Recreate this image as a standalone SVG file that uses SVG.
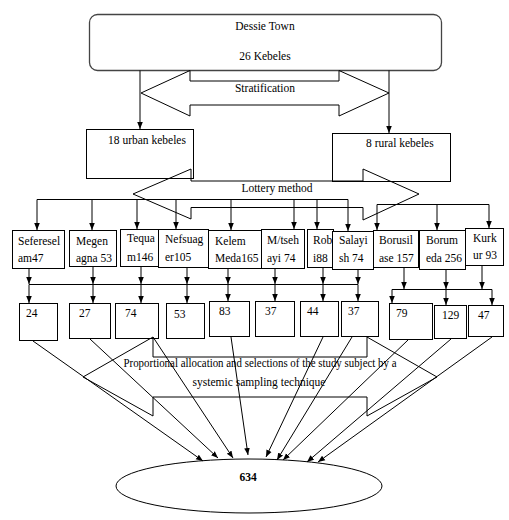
<svg xmlns="http://www.w3.org/2000/svg" width="509" height="520" viewBox="0 0 509 520">
<style>
text{font-family:"Liberation Serif","Times New Roman",serif;font-size:11.5px;fill:#000}
.c{text-anchor:middle}
.b{font-weight:bold}
.box{fill:#fff;stroke:#000;stroke-width:1}
.big{fill:none;stroke:#000;stroke-width:1}
.ln{fill:none;stroke:#000;stroke-width:1}
.ar{fill:none;stroke:#000;stroke-width:1;marker-end:url(#ah)}
</style>
<defs>
<marker id="ah" viewBox="0 0 10 10" refX="10" refY="5" markerWidth="7" markerHeight="7" markerUnits="userSpaceOnUse" orient="auto"><path d="M0,1 L10,5 L0,9 z" fill="#000"/></marker>
</defs>
<rect width="509" height="520" fill="#fff"/>

<g id="dessie">
<rect x="89.5" y="14.5" width="352" height="56" rx="8" ry="8" fill="#fff" stroke="#444" stroke-width="1.3"/>
<text class="c" x="265" y="30">Dessie Town</text>
<text class="c" x="265" y="60">26 Kebeles</text>
</g>

<g id="urban"><rect class="box" x="86.5" y="129.5" width="107" height="49"/><text x="108" y="144">18 urban kebeles</text></g>
<g id="rural"><rect class="box" x="332.5" y="133.5" width="118" height="48"/><text x="366" y="147">8 rural kebeles</text></g>

<g id="stratification">
<polygon class="big" points="141,93 190,70.5 190,81 339,81 339,70.5 389,93 339,116 339,105 190,105 190,116"/>
<text class="c" x="265" y="92">Stratification</text>
</g>

<g id="lottery">
<polygon class="big" points="133,194 191,169 191,181 363,181 363,169 419,194 363,220 363,207.5 191,207.5 191,219"/>
<text class="c" x="277" y="192">Lottery method</text>
</g>

<g id="kebeles">
<g id="k1"><rect class="box" x="12.5" y="230.5" width="52" height="38"/><text x="18" y="245">Seferesel</text><text x="18" y="262">am47</text></g>
<g id="k2"><rect class="box" x="69.5" y="230.5" width="47" height="36"/><text x="76" y="245">Megen</text><text x="76" y="262">agna 53</text></g>
<g id="k3"><rect class="box" x="120.5" y="229.5" width="38" height="37"/><text x="127" y="242">Tequa</text><text x="127" y="261">m146</text></g>
<g id="k4"><rect class="box" x="158.5" y="229.5" width="50" height="38"/><text x="165" y="243">Nefsuag</text><text x="165" y="261">er105</text></g>
<g id="k5"><rect class="box" x="208.5" y="230.5" width="53" height="38"/><text x="215" y="245">Kelem</text><text x="215" y="262">Meda165</text></g>
<g id="k6"><rect class="box" x="261.5" y="229.5" width="43" height="39"/><text x="267" y="244">M/tseh</text><text x="267" y="262">ayi 74</text></g>
<g id="k7"><rect class="box" x="307.5" y="229.5" width="26" height="38"/><text x="313" y="244">Rob</text><text x="313" y="262">i88</text></g>
<g id="k8"><rect class="box" x="332.5" y="231.5" width="41" height="38"/><text x="339" y="244">Salayi</text><text x="339" y="262">sh 74</text></g>
<g id="k9"><rect class="box" x="373.5" y="230.5" width="45" height="37"/><text x="379" y="244">Borusil</text><text x="379" y="262">ase 157</text></g>
<g id="k10"><rect class="box" x="419.5" y="230.5" width="46" height="39"/><text x="426" y="244">Borum</text><text x="426" y="262">eda 256</text></g>
<g id="k11"><rect class="box" x="465.5" y="228.5" width="38" height="37"/><text x="473" y="242">Kurk</text><text x="473" y="259">ur 93</text></g>
</g>

<g id="samples">
<g id="s1"><rect class="box" x="19.5" y="303.5" width="38" height="37"/><text x="26" y="317">24</text></g>
<g id="s2"><rect class="box" x="69.5" y="303.5" width="41" height="35"/><text x="79" y="317">27</text></g>
<g id="s3"><rect class="box" x="115.5" y="303.5" width="43" height="35"/><text x="125" y="317">74</text></g>
<g id="s4"><rect class="box" x="166.5" y="303.5" width="38" height="35"/><text x="174" y="318">53</text></g>
<g id="s5"><rect class="box" x="209.5" y="301.5" width="40" height="35"/><text x="219" y="315">83</text></g>
<g id="s6"><rect class="box" x="255.5" y="301.5" width="39" height="35"/><text x="265" y="315">37</text></g>
<g id="s7"><rect class="box" x="300.5" y="301.5" width="38" height="35"/><text x="307" y="315">44</text></g>
<g id="s8"><rect class="box" x="341.5" y="301.5" width="37" height="35"/><text x="348" y="315">37</text></g>
<g id="s9"><rect class="box" x="389.5" y="303.5" width="43" height="36"/><text x="396" y="317">79</text></g>
<g id="s10"><rect class="box" x="434.5" y="305.5" width="32" height="33"/><text x="442" y="319">129</text></g>
<g id="s11"><rect class="box" x="468.5" y="305.5" width="35" height="31"/><text x="478" y="319">47</text></g>
</g>

<g id="proportional">
<polygon class="big" points="83,377 153,337 153,357 367,357 367,337 437,377 367,416 367,397 153,397 153,416"/>
<text class="c" x="260" y="367" textLength="273" lengthAdjust="spacingAndGlyphs">Proportional allocation and selections of the study subject by a</text>
<text class="c" x="259" y="386">systemic sampling technique</text>
</g>

<g id="total">
<ellipse cx="249" cy="486" rx="133" ry="27" fill="#fff" stroke="#000" stroke-width="1"/>
<text class="c b" x="248" y="481">634</text>
</g>

<g id="connectors">
<path class="ar" d="M140,70.5 V129"/>
<path class="ar" d="M389,70.5 V133"/>
<path class="ln" d="M37,199.5 H348"/>
<path class="ar" d="M37,199.5 V230"/>
<path class="ar" d="M92,199.5 V230"/>
<path class="ar" d="M137,199.5 V229"/>
<path class="ar" d="M176,199.5 V229"/>
<path class="ar" d="M231,199.5 V230"/>
<path class="ar" d="M294,199.5 V229"/>
<path class="ar" d="M317,199.5 V229"/>
<path class="ar" d="M348,199.5 V231"/>
<path class="ln" d="M377,204.5 H489"/>
<path class="ar" d="M377,204.5 V230"/>
<path class="ar" d="M437,204.5 V230"/>
<path class="ar" d="M489,204.5 V228"/>

<path class="ar" d="M29,269 V284"/>
<path class="ar" d="M93,267 V284"/>
<path class="ar" d="M141,267 V284"/>
<path class="ar" d="M187,268 V284"/>
<path class="ar" d="M228,269 V284"/>
<path class="ar" d="M275,269 V284"/>
<path class="ar" d="M323,268 V284"/>
<path class="ar" d="M358,270 V284"/>
<path class="ln" d="M29,284.5 H358"/>
<path class="ar" d="M29,284.5 V303"/>
<path class="ar" d="M93,284.5 V303"/>
<path class="ar" d="M141,284.5 V303"/>
<path class="ar" d="M187,284.5 V303"/>
<path class="ar" d="M228,284.5 V301"/>
<path class="ar" d="M275,284.5 V301"/>
<path class="ar" d="M323,284.5 V301"/>
<path class="ar" d="M358,284.5 V301"/>

<path class="ar" d="M404,268 V289"/>
<path class="ar" d="M446,270 V289"/>
<path class="ar" d="M482,266 V289"/>
<path class="ln" d="M392,289.5 H492"/>
<path class="ar" d="M392,289.5 V303"/>
<path class="ar" d="M446,289.5 V305"/>
<path class="ar" d="M492,289.5 V305"/>

<path class="ar" d="M33,341 L203,461"/>
<path class="ar" d="M90,339 L218,458"/>
<path class="ar" d="M153,337 L233,458"/>
<path class="ar" d="M231,337 L248,455"/>
<path class="ar" d="M323,337 L266,457"/>
<path class="ar" d="M352,337 L277,460"/>
<path class="ar" d="M408,340 L283,460"/>
<path class="ar" d="M451,339 L307,462"/>
<path class="ar" d="M492,337 L318,462"/>
</g>
</svg>
